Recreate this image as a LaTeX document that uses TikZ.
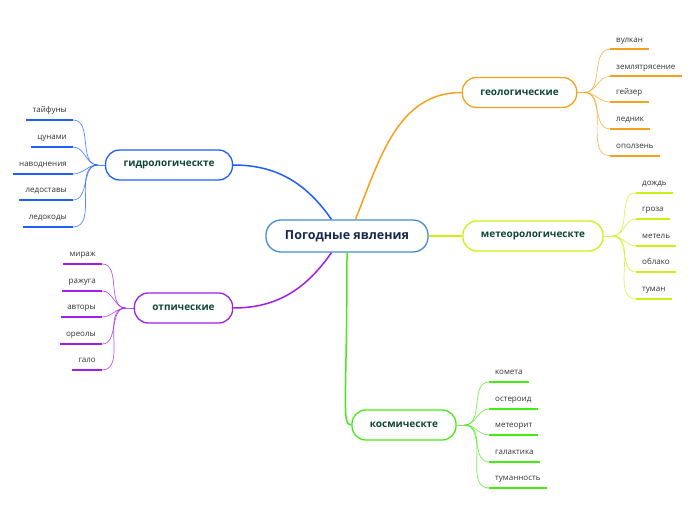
\documentclass[tikz,border=0pt]{standalone}
\usepackage{fontspec}
\setmainfont{Open Sans}
\usepackage{tikz}

\definecolor{rootline}{RGB}{70,140,210}
\definecolor{roottext}{RGB}{25,40,75}
\definecolor{geoline}{RGB}{247,160,30}
\definecolor{meteoline}{RGB}{205,240,20}
\definecolor{hydroline}{RGB}{30,95,250}
\definecolor{optline}{RGB}{160,30,235}
\definecolor{cosmline}{RGB}{70,235,20}
\definecolor{topictext}{RGB}{15,70,55}
\definecolor{leaftext}{RGB}{50,50,50}

\tikzset{
  topic/.style={draw, fill=white, rounded corners=14pt, line width=1.3pt,
    minimum height=30pt, inner xsep=18pt, text=topictext,
    font=\fontsize{10}{12}\selectfont\bfseries},
  leaf/.style={inner xsep=6pt, inner ysep=5pt, text height=6pt, text depth=2pt,
    text=leaftext, font=\fontsize{8}{10}\selectfont},
  twig/.style={line width=0.7pt, opacity=0.75},
  stroke/.style={line width=2.3pt}
}

\begin{document}
\begin{tikzpicture}[x=1pt,y=1pt]
\useasboundingbox (0,0) rectangle (696,520);

% root
\node[topic, draw=rootline, text=roottext, minimum height=32pt, inner xsep=19pt,
  rounded corners=15pt, font=\fontsize{12.5}{15}\selectfont\bfseries]
  (root) at (347,284) {Погодные явления};

% topics
\node[topic, draw=geoline]   (geo)   at (519.5,427.5) {геологические};
\node[topic, draw=meteoline] (meteo) at (533,284)     {метеорологическте};
\node[topic, draw=hydroline] (hydro) at (169,355)     {гидрологическте};
\node[topic, draw=optline]   (opt)   at (183.5,212)   {отпические};
\node[topic, draw=cosmline]  (cosm)  at (404,95)      {космическте};

% branches
\begin{scope}[line width=1.5pt]
\draw[geoline]   (root.63)  to[out=68,in=180]  (geo.west);
\draw[hydroline] (root.133) to[out=125,in=0]   (hydro.east);
\draw[optline]   (root.227) to[out=235,in=0]   (opt.east);
\draw[meteoline] (root.east) -- (meteo.west);
\draw[cosmline]  (root.south) .. controls +(0,-150) and +(-10,0) .. (cosm.west);
\end{scope}

% leaves, right side
\begin{scope}[every node/.style={leaf, anchor=south west}]
\node (vulkan)   at (610,470.7) {вулкан};
\node (zemlya)   at (610,443.7) {землятрясение};
\node (geyser)   at (610,418)   {гейзер};
\node (lednik)   at (610,391)   {ледник};
\node (opolzen)  at (610,364.3) {оползень};

\node (dozhd)    at (636,327.3) {дождь};
\node (groza)    at (636,301)   {гроза};
\node (metel)    at (636,274)   {метель};
\node (oblako)   at (636,248)   {облако};
\node (tuman)    at (636,221)   {туман};

\node (kometa)   at (489,138)   {комета};
\node (asteroid) at (489,111)   {остероид};
\node (meteorit) at (489,85)    {метеорит};
\node (galakt)   at (489,58)    {галактика};
\node (tumannost) at (489,32)   {туманность};
\end{scope}

% leaves, left side
\begin{scope}[every node/.style={leaf, anchor=south east}]
\node (tayfun)   at (73,400)  {тайфуны};
\node (tsunami)  at (73,373)  {цунами};
\node (navodn)   at (73,346)  {наводнения};
\node (ledostav) at (73,320)  {ледоставы};
\node (ledokhod) at (73,293)  {ледокоды};

\node (mirazh)   at (102,256) {мираж};
\node (raduga)   at (102,229) {ражуга};
\node (avrora)   at (102,203) {авторы};
\node (oreol)    at (102,176) {ореолы};
\node (galo)     at (102,150) {гало};
\end{scope}

% junctions
\coordinate (geoj)   at ([xshift=7pt]geo.east);
\coordinate (meteoj) at ([xshift=9pt]meteo.east);
\coordinate (cosmj)  at ([xshift=8pt]cosm.east);
\coordinate (hydroj) at ([xshift=-7pt]hydro.west);
\coordinate (optj)   at ([xshift=-8pt]opt.west);

% twigs
\begin{scope}[twig, draw=geoline]
\draw (geo.east) -- (geoj);
\draw (geoj) to[out=0,in=180] (vulkan.south west);
\draw (geoj) to[out=0,in=180] (zemlya.south west);
\draw (geoj) to[out=0,in=180] (geyser.south west);
\draw (geoj) to[out=0,in=180] (lednik.south west);
\draw (geoj) to[out=0,in=180] (opolzen.south west);
\end{scope}

\begin{scope}[twig, draw=meteoline]
\draw (meteo.east) -- (meteoj);
\draw (meteoj) to[out=0,in=180] (dozhd.south west);
\draw (meteoj) to[out=0,in=180] (groza.south west);
\draw (meteoj) to[out=0,in=180] (metel.south west);
\draw (meteoj) to[out=0,in=180] (oblako.south west);
\draw (meteoj) to[out=0,in=180] (tuman.south west);
\end{scope}

\begin{scope}[twig, draw=cosmline]
\draw (cosm.east) -- (cosmj);
\draw (cosmj) to[out=0,in=180] (kometa.south west);
\draw (cosmj) to[out=0,in=180] (asteroid.south west);
\draw (cosmj) to[out=0,in=180] (meteorit.south west);
\draw (cosmj) to[out=0,in=180] (galakt.south west);
\draw (cosmj) to[out=0,in=180] (tumannost.south west);
\end{scope}

\begin{scope}[twig, draw=hydroline]
\draw (hydro.west) -- (hydroj);
\draw (hydroj) to[out=180,in=0] (tayfun.south east);
\draw (hydroj) to[out=180,in=0] (tsunami.south east);
\draw (hydroj) to[out=180,in=0] (navodn.south east);
\draw (hydroj) to[out=180,in=0] (ledostav.south east);
\draw (hydroj) to[out=180,in=0] (ledokhod.south east);
\end{scope}

\begin{scope}[twig, draw=optline]
\draw (opt.west) -- (optj);
\draw (optj) to[out=180,in=0] (mirazh.south east);
\draw (optj) to[out=180,in=0] (raduga.south east);
\draw (optj) to[out=180,in=0] (avrora.south east);
\draw (optj) to[out=180,in=0] (oreol.south east);
\draw (optj) to[out=180,in=0] (galo.south east);
\end{scope}

% underlines
\begin{scope}[stroke, draw=geoline]
\draw (vulkan.south west) -- (vulkan.south east);
\draw (zemlya.south west) -- (zemlya.south east);
\draw (geyser.south west) -- (geyser.south east);
\draw (lednik.south west) -- (lednik.south east);
\draw (opolzen.south west) -- (opolzen.south east);
\end{scope}

\begin{scope}[stroke, draw=meteoline]
\draw (dozhd.south west) -- (dozhd.south east);
\draw (groza.south west) -- (groza.south east);
\draw (metel.south west) -- (metel.south east);
\draw (oblako.south west) -- (oblako.south east);
\draw (tuman.south west) -- (tuman.south east);
\end{scope}

\begin{scope}[stroke, draw=cosmline]
\draw (kometa.south west) -- (kometa.south east);
\draw (asteroid.south west) -- (asteroid.south east);
\draw (meteorit.south west) -- (meteorit.south east);
\draw (galakt.south west) -- (galakt.south east);
\draw (tumannost.south west) -- (tumannost.south east);
\end{scope}

\begin{scope}[stroke, draw=hydroline]
\draw (tayfun.south west) -- (tayfun.south east);
\draw (tsunami.south west) -- (tsunami.south east);
\draw (navodn.south west) -- (navodn.south east);
\draw (ledostav.south west) -- (ledostav.south east);
\draw (ledokhod.south west) -- (ledokhod.south east);
\end{scope}

\begin{scope}[stroke, draw=optline]
\draw (mirazh.south west) -- (mirazh.south east);
\draw (raduga.south west) -- (raduga.south east);
\draw (avrora.south west) -- (avrora.south east);
\draw (oreol.south west) -- (oreol.south east);
\draw (galo.south west) -- (galo.south east);
\end{scope}

\end{tikzpicture}
\end{document}
